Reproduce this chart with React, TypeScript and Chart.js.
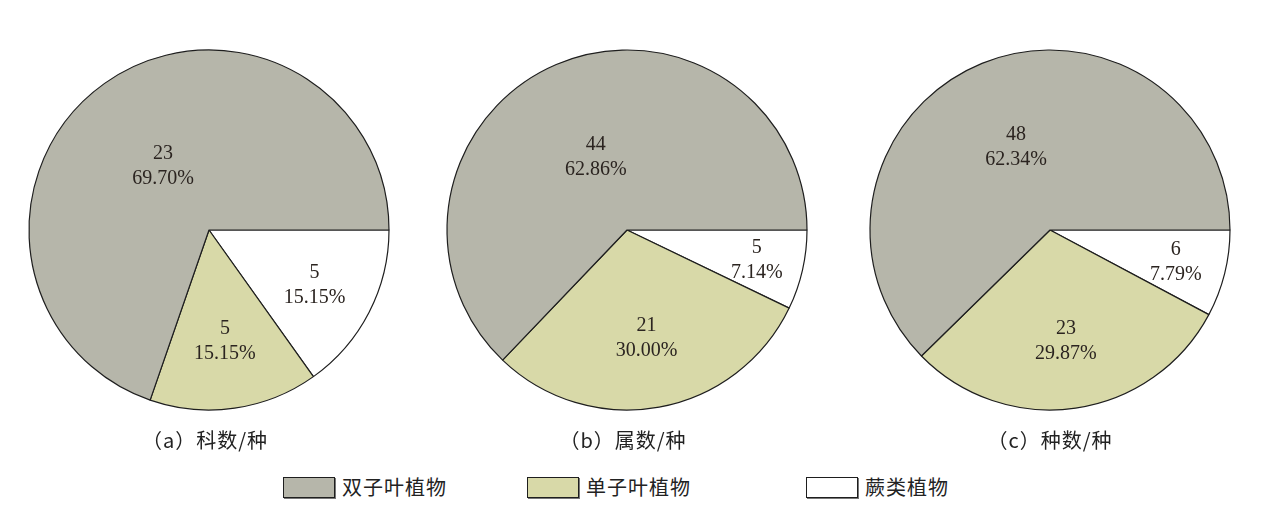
import React, { useEffect, useRef } from "react";
import { Chart, registerables } from "chart.js";

Chart.register(...registerables);

// Categories in legend order
const categories = ["双子叶植物", "单子叶植物", "蕨类植物"];
const colors = ["#b6b6aa", "#d8d9a8", "#ffffff"];

// Counts per panel (same order as categories)
const familyCounts = [23, 5, 5];
const genusCounts = [44, 21, 5];
const speciesCounts = [48, 23, 6];

// Percent labels as printed
const familyPct = ["69.70%", "15.15%", "15.15%"];
const genusPct = ["62.86%", "30.00%", "7.14%"];
const speciesPct = ["62.34%", "29.87%", "7.79%"];

const captions = ["（a）科数/种", "（b）属数/种", "（c）种数/种"];

// style: label radial position as fraction of radius, per category, per panel
const labelRadiusA = [0.44, 0.62, 0.66];
const labelRadiusB = [0.44, 0.61, 0.74];
const labelRadiusC = [0.5, 0.62, 0.72];

const panels = [
  { counts: familyCounts, pct: familyPct, lr: labelRadiusA, left: 1 },
  { counts: genusCounts, pct: genusPct, lr: labelRadiusB, left: 419 },
  { counts: speciesCounts, pct: speciesPct, lr: labelRadiusC, left: 842 },
];

function PiePanel({ counts, pct, lr, left }: { counts: number[]; pct: string[]; lr: number[]; left: number }) {
  const ref = useRef<HTMLCanvasElement>(null);
  useEffect(() => {
    if (!ref.current) return;
    // drawn clockwise from 3 o'clock, so reverse order to match the figure
    const order = [2, 1, 0];
    const labelPlugin = {
      id: "sliceLabels",
      afterDatasetsDraw(chart: any) {
        const ctx = chart.ctx;
        const meta = chart.getDatasetMeta(0);
        ctx.save();
        ctx.fillStyle = "#2b2420";
        ctx.font = '20px "Liberation Serif", "Times New Roman", serif';
        ctx.textAlign = "center";
        ctx.textBaseline = "middle";
        meta.data.forEach((arc: any, i: number) => {
          const cat = order[i];
          const { x, y, startAngle, endAngle, outerRadius } = arc.getProps(
            ["x", "y", "startAngle", "endAngle", "outerRadius"],
            true
          );
          const mid = (startAngle + endAngle) / 2;
          const r = outerRadius * lr[cat];
          const cx = x + Math.cos(mid) * r;
          const cy = y + Math.sin(mid) * r;
          ctx.fillText(String(counts[cat]), cx, cy - 12);
          ctx.fillText(pct[cat], cx, cy + 13);
        });
        ctx.restore();
      },
    };
    const chart = new Chart(ref.current, {
      type: "pie",
      data: {
        labels: order.map((i) => categories[i]),
        datasets: [
          {
            data: order.map((i) => counts[i]),
            backgroundColor: order.map((i) => colors[i]),
            borderColor: "#1e1e1e",
            borderWidth: 1.2,
          },
        ],
      },
      options: {
        animation: false,
        responsive: false,
        rotation: 90,
        radius: 180,
        layout: { padding: 0 },
        plugins: {
          legend: { display: false },
          tooltip: { enabled: false },
        },
      },
      plugins: [labelPlugin],
    });
    return () => chart.destroy();
  }, [counts, pct, lr]);
  return (
    <canvas
      ref={ref}
      width={400}
      height={400}
      style={{ position: "absolute", left, top: 22, width: 400, height: 400 }}
    />
  );
}

const captionCenters = [197, 615, 1042];
const legendBoxLefts = [275, 519, 798];

export default function App() {
  return (
    <div
      style={{
        position: "relative",
        width: 1253,
        height: 495,
        background: "#fff",
        fontFamily: '"Noto Sans CJK SC", sans-serif',
      }}
    >
      {panels.map((p, i) => (
        <PiePanel key={i} counts={p.counts} pct={p.pct} lr={p.lr} left={p.left} />
      ))}
      {captions.map((c, i) => (
        <div
          key={c}
          style={{
            position: "absolute",
            left: captionCenters[i] - 150,
            width: 300,
            top: 419,
            lineHeight: "26px",
            fontSize: 20,
            letterSpacing: 1,
            textAlign: "center",
            color: "#222",
          }}
        >
          {c}
        </div>
      ))}
      {categories.map((c, i) => (
        <div
          key={c}
          style={{
            position: "absolute",
            left: legendBoxLefts[i],
            top: 467,
            height: 24,
            display: "flex",
            alignItems: "center",
          }}
        >
          <div
            style={{
              width: 50,
              height: 19,
              background: colors[i],
              border: "1.5px solid #1e1e1e",
              boxShadow: "1px 1px 0 #777",
              marginRight: 7,
            }}
          />
          <span style={{ fontSize: 20, letterSpacing: 1, color: "#222", lineHeight: "24px" }}>{c}</span>
        </div>
      ))}
    </div>
  );
}
